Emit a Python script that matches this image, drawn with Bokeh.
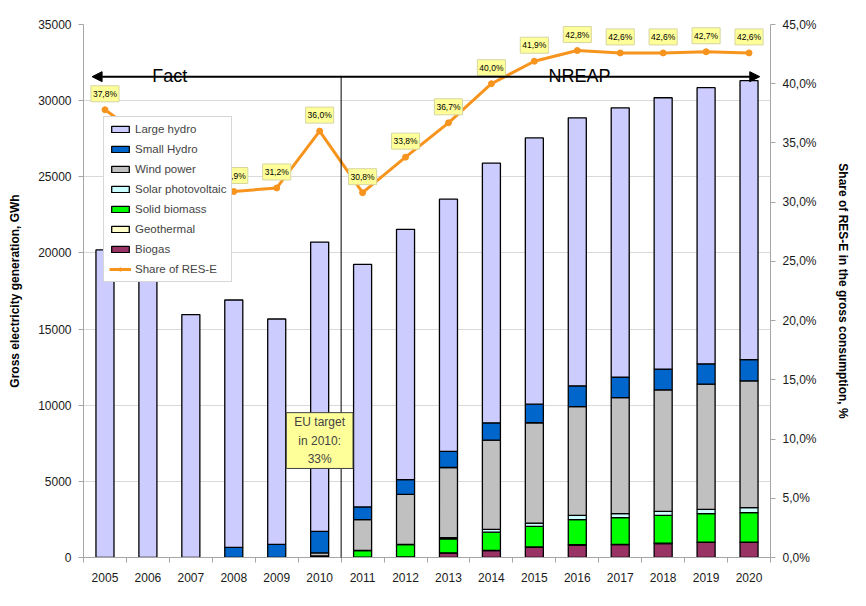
from bokeh.plotting import figure
from bokeh.models import (Range1d, LinearAxis, FixedTicker, ColumnDataSource,
                          Label, Arrow, NormalHead, Legend, LegendItem)
from bokeh.embed import file_html
from bokeh.resources import INLINE

# ---------------- data ----------------
years = [2005, 2006, 2007, 2008, 2009, 2010, 2011, 2012, 2013, 2014, 2015, 2016, 2017, 2018, 2019, 2020]
biogas     = [0, 0, 0, 0, 0, 0, 20, 40, 300, 450, 670, 820, 840, 920, 990, 990]
geothermal = [0, 0, 0, 0, 0, 0, 0, 0, 10, 15, 20, 20, 20, 20, 20, 20]
biomass    = [0, 0, 0, 0, 0, 100, 440, 800, 920, 1200, 1350, 1650, 1760, 1830, 1870, 1940]
solar      = [0, 0, 0, 0, 0, 0, 10, 20, 80, 180, 220, 280, 260, 260, 280, 330]
wind       = [0, 0, 0, 0, 0, 200, 2020, 3290, 4600, 5860, 6590, 7140, 7620, 7980, 8220, 8320]
small_hydro = [0, 0, 0, 660, 860, 1410, 830, 970, 1060, 1140, 1220, 1360, 1350, 1360, 1340, 1390]
large_hydro = [20200, 19200, 15950, 16250, 14800, 19000, 15930, 16430, 16560, 17050, 17480, 17600, 17680, 17820, 18130, 18320]
share = [37.8, 35.2, 32.0, 30.9, 31.2, 36.0, 30.8, 33.8, 36.7, 40.0, 41.9, 42.8, 42.6, 42.6, 42.7, 42.6]

left_ticks = [0, 5000, 10000, 15000, 20000, 25000, 30000, 35000]
right_ticks = [0, 5, 10, 15, 20, 25, 30, 35, 40, 45]

series_names = ["Biogas", "Geothermal", "Solid biomass", "Solar photovoltaic",
                "Wind power", "Small Hydro", "Large hydro"]
series_keys = ["biogas", "geo", "biomass", "solar", "wind", "small", "large"]
series_colors = ["#993366", "#ffffcc", "#00ff00", "#ccffff", "#c0c0c0", "#0066cc", "#ccccff"]

FONT = "Liberation Sans"

src = ColumnDataSource(dict(
    year=years, biogas=biogas, geo=geothermal, biomass=biomass, solar=solar,
    wind=wind, small=small_hydro, large=large_hydro, share=share,
))

p = figure(width=858, height=598, output_backend="svg", toolbar_location=None,
           x_range=Range1d(2004.5, 2020.5), y_range=Range1d(0, 35000),
           min_border_left=83, min_border_right=88, min_border_top=24, min_border_bottom=41)
p.outline_line_color = None
p.background_fill_color = "white"
p.border_fill_color = "white"
p.extra_y_ranges = {"share": Range1d(0, 45)}

# grid
p.xgrid.grid_line_color = None
p.ygrid.grid_line_color = "#d9d9d9"
p.ygrid.ticker = FixedTicker(ticks=left_ticks)

# bars
bar_rs = p.vbar_stack(series_keys, x="year", width=0.42, source=src,
                      fill_color=series_colors, line_color="black", line_width=1.3)

# share line
line_r = p.line("year", "share", source=src, y_range_name="share",
                line_color="#f7941d", line_width=3)
pt_r = p.scatter("year", "share", source=src, y_range_name="share", marker="circle",
                 size=6, fill_color="#f7941d", line_color="#f7941d")

# data labels of the share line (one boxed label per point)
for yr, v in zip(years, share):
    p.add_layout(Label(x=yr, y=v, y_range_name="share", text=("%.1f%%" % v).replace(".", ","),
                       y_offset=8, text_align="center", text_baseline="bottom",
                       text_font=FONT, text_font_size="8.5px", text_color="black",
                       background_fill_color="#ffff99", border_line_color="#d6d6a0",
                       padding=(2, 3)))

# axes
p.yaxis.ticker = FixedTicker(ticks=left_ticks)
p.yaxis.axis_label = "Gross electricity generation, GWh"
right_axis = LinearAxis(y_range_name="share", ticker=FixedTicker(ticks=right_ticks),
                        axis_label="Share of RES-E in the gross consumption, %")
right_axis.major_label_overrides = {t: ("%.1f%%" % t).replace(".", ",") for t in right_ticks}
p.add_layout(right_axis, "right")

p.xaxis.ticker = FixedTicker(ticks=years, minor_ticks=[y - 0.5 for y in years] + [2020.5])
p.xaxis.major_tick_out = 0
p.xaxis.major_tick_in = 0
p.xaxis.minor_tick_out = 5
p.xaxis.minor_tick_in = 0
p.xaxis.major_label_standoff = 10

for ax in [p.yaxis[0], right_axis, p.xaxis[0]]:
    ax.axis_line_color = "#a6a6a6"
    ax.major_tick_line_color = "#a6a6a6"
    ax.minor_tick_line_color = "#a6a6a6"
    ax.major_label_text_font = FONT
    ax.major_label_text_font_size = "12px"
    ax.major_label_text_color = "#1a1a1a"
    ax.axis_label_text_font = FONT
    ax.axis_label_text_font_size = "12px"
    ax.axis_label_text_font_style = "bold"
    ax.axis_label_text_color = "black"
for ax in [p.yaxis[0], right_axis]:
    ax.minor_tick_line_color = None
    ax.major_tick_out = 5
    ax.major_tick_in = 0
    ax.major_label_standoff = 7
p.yaxis[0].axis_label_standoff = 13
right_axis.axis_label_standoff = 16

# annotations: arrow, divider, texts
p.add_layout(Arrow(start=NormalHead(size=10, fill_color="black", line_color="black"),
                   end=NormalHead(size=10, fill_color="black", line_color="black"),
                   x_start=2004.7, y_start=31575, x_end=2020.25, y_end=31575,
                   line_color="black", line_width=2))
p.add_layout(Arrow(end=None, x_start=2010.5, y_start=-300, x_end=2010.5, y_end=31575,
                   line_color="black", line_width=1))
p.add_layout(Label(x=2006.1, y=31640, text="Fact", text_font=FONT, text_font_size="18px",
                   text_baseline="alphabetic", text_color="black"))
p.add_layout(Label(x=2015.33, y=31640, text="NREAP", text_font=FONT, text_font_size="18px",
                   text_baseline="alphabetic", text_color="black"))
p.add_layout(Label(x=2010, y=7680, text="EU target\nin 2010:\n33%", text_font=FONT,
                   text_font_size="12px", text_align="center", text_baseline="middle",
                   text_line_height=1.35, background_fill_color="#ffff99",
                   border_line_color="#404040", border_line_width=1, padding=(8, 2)))

# legend
items = [LegendItem(label=series_names[i], renderers=[bar_rs[i]]) for i in range(6, -1, -1)]
items.append(LegendItem(label="Share of RES-E", renderers=[line_r, pt_r]))
legend = Legend(items=items, location=(20, 275), padding=5, margin=0, spacing=6,
                label_height=14, glyph_height=8, glyph_width=22, label_standoff=4,
                label_text_font=FONT, label_text_font_size="11.5px",
                border_line_color="#b0b0b0", background_fill_alpha=1.0)
p.add_layout(legend, "center")

open("out.html", "w").write(file_html(p, INLINE))
